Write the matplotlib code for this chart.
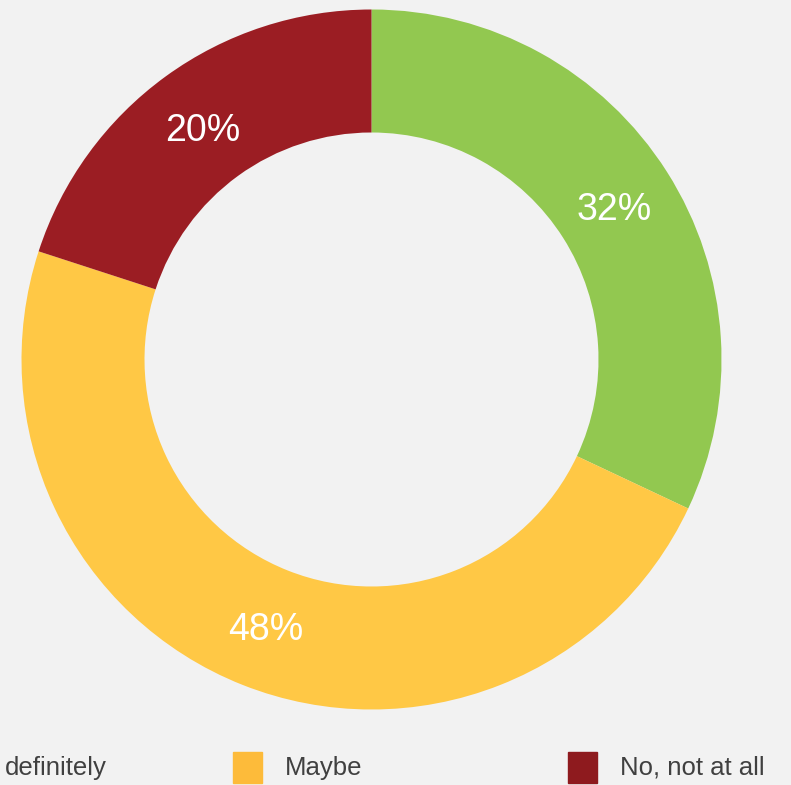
import matplotlib.pyplot as plt
from matplotlib.patches import Rectangle

plt.rcParams['font.family'] = ['Liberation Sans', 'DejaVu Sans']

labels = ['definitely', 'Maybe', 'No, not at all']
shares = [32, 48, 20]
colors = ['#92c850', '#ffc845', '#9b1d23']
swatch_colors = ['#92c850', '#fdbb3a', '#8e1a1e']

W, H = 791, 785
fig = plt.figure(figsize=(W / 100, H / 100), dpi=100, facecolor='#f2f2f2')
ax = fig.add_axes([0, 0, 1, 1])
ax.set_facecolor('#f2f2f2')
ax.axis('off')

# donut, clockwise from 12 o'clock
wedges, texts, autotexts = ax.pie(
    shares, colors=colors, startangle=90, counterclock=False,
    center=(371.5, H - 359.5), radius=350,
    wedgeprops=dict(width=123, linewidth=0),
    autopct=lambda p: f'{p:.0f}%', pctdistance=0.82,
    textprops=dict(color='white', fontsize=27),
)
for t in autotexts:
    x, y = t.get_position()
    t.set_position((x, y - 4))
ax.set_xlim(0, W)
ax.set_ylim(0, H)
ax.set_aspect('equal')

# legend row along the bottom edge (first swatch sits off the left edge)
box_x = [None, 233, 568]
text_x = [5, 285, 620]
for i, lab in enumerate(labels):
    if box_x[i] is not None:
        fig.patches.append(Rectangle((box_x[i] / W, 2 / H), 29 / W, 31 / H,
                                     transform=fig.transFigure,
                                     color=swatch_colors[i]))
    fig.text(text_x[i] / W, 17 / H, lab, ha='left', va='center',
             fontsize=18.5, color='#404040')

fig.savefig('out.png', dpi=100, facecolor=fig.get_facecolor())
